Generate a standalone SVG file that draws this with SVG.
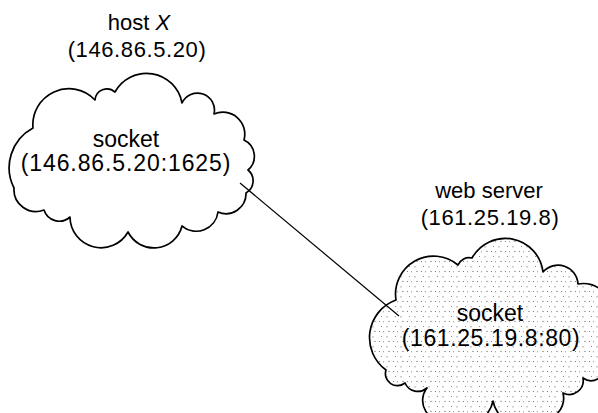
<svg xmlns="http://www.w3.org/2000/svg" width="598" height="413" viewBox="0 0 598 413">
<style>
text{font-family:"Liberation Sans",Arial,sans-serif;font-size:22px;fill:#000;text-anchor:middle}
.lbl{font-size:23px}
.num{letter-spacing:0.6px}
.addr{letter-spacing:0.9px}
.cloud{stroke:#000;stroke-width:1.7;stroke-linejoin:round}
.conn{stroke:#000;stroke-width:1.2;fill:none}
</style>
<defs>
<pattern id="stip" width="14" height="10" patternUnits="userSpaceOnUse">
<rect width="14" height="10" fill="#fff"/>
<circle cx="1.5" cy="1.5" r="0.6" fill="#666"/>
<circle cx="5.5" cy="1.8" r="0.55" fill="#777"/>
<circle cx="11" cy="1.4" r="0.6" fill="#666"/>
<circle cx="3.5" cy="6.5" r="0.55" fill="#777"/>
<circle cx="9" cy="6.8" r="0.6" fill="#666"/>
</pattern>
</defs>
<rect width="598" height="413" fill="#fff"/>
<g id="hostX">
<path class="cloud" fill="#fff" d="M33,128 A36,36 0 0 1 95,100 A12,12 0 0 1 115,92 A36,36 0 0 1 182,103 A17,17 0 0 1 214,114 A22,22 0 0 1 244,140 A18,18 0 0 1 248,170 A14,14 0 0 1 246,193 A20,20 0 0 1 218,212 A22,22 0 0 1 182,226 A29,29 0 0 1 128,232 A31,31 0 0 1 70,217 A16,16 0 0 1 44,210 A22,22 0 0 1 14,188 A45,45 0 0 1 33,128 Z"/>
<text x="139" y="30">host <tspan font-style="italic">X</tspan></text>
<text class="num" x="137" y="57">(146.86.5.20)</text>
<text class="lbl" x="126" y="147">socket</text>
<text class="lbl addr" x="126" y="171">(146.86.5.20:1625)</text>
</g>
<g id="webServer">
<path class="cloud" fill="url(#stip)" d="M396,300 A38,38 0 0 1 458,265 A12,12 0 0 1 472,258 A38,38 0 0 1 543,272 A20,20 0 0 1 578,284 A28,28 0 0 1 610,320 A30,30 0 0 1 605,365 A14,14 0 0 1 583,378 A14,14 0 0 1 563,393 A22,22 0 0 1 540,420 A30,30 0 0 1 493,401 A30,30 0 0 1 447,420 A20,20 0 0 1 427,388 A14,14 0 0 1 405,383 A12,12 0 0 1 386,370 A40,40 0 0 1 396,300 Z"/>
<text x="489" y="198">web server</text>
<text class="num" x="490" y="225">(161.25.19.8)</text>
<text class="lbl" x="490" y="321">socket</text>
<text class="lbl num" x="491" y="346">(161.25.19.8:80)</text>
</g>
<g id="connectors">
<line class="conn" x1="240" y1="183" x2="399" y2="316"/>
</g>
</svg>
